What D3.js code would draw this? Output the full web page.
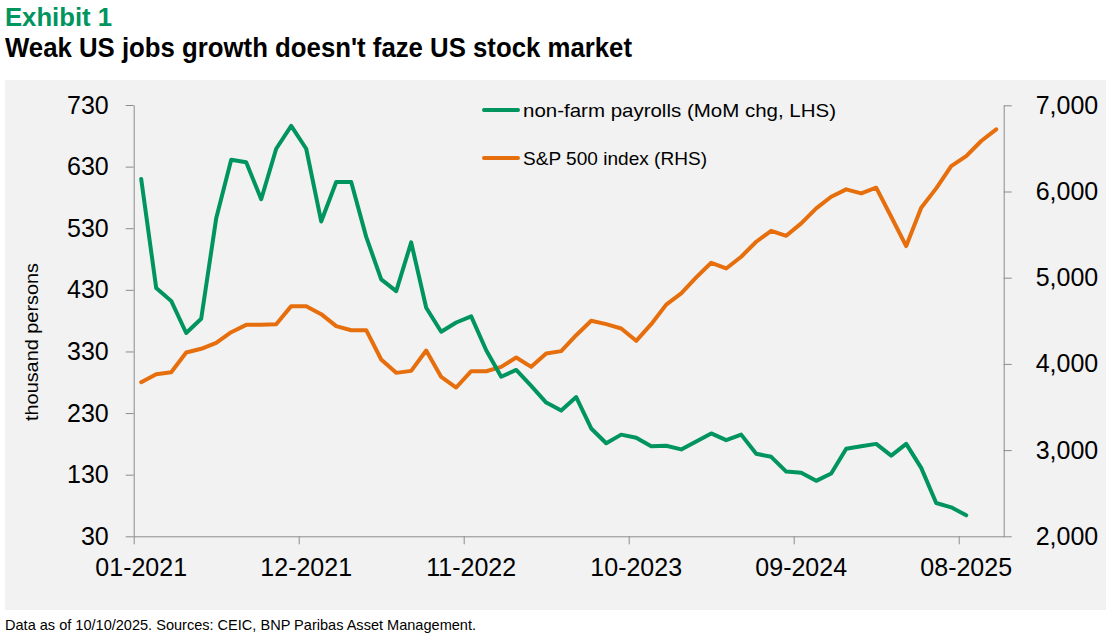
<!DOCTYPE html>
<html>
<head>
<meta charset="utf-8">
<script src="https://cdn.jsdelivr.net/npm/d3@7"></script>
<style>
  body { margin: 0; background: #fff; }
  svg { display: block; }
  .tick text { font-family: "Liberation Sans", Arial, sans-serif; fill: #000; }
</style>
</head>
<body>
<div class="svgWrapper"></div>
<script>
// Data //
const months = [
  "01-2021", "02-2021", "03-2021", "04-2021", "05-2021", "06-2021", "07-2021", "08-2021", "09-2021", "10-2021", "11-2021", "12-2021",
  "01-2022", "02-2022", "03-2022", "04-2022", "05-2022", "06-2022", "07-2022", "08-2022", "09-2022", "10-2022", "11-2022", "12-2022",
  "01-2023", "02-2023", "03-2023", "04-2023", "05-2023", "06-2023", "07-2023", "08-2023", "09-2023", "10-2023", "11-2023", "12-2023",
  "01-2024", "02-2024", "03-2024", "04-2024", "05-2024", "06-2024", "07-2024", "08-2024", "09-2024", "10-2024", "11-2024", "12-2024",
  "01-2025", "02-2025", "03-2025", "04-2025", "05-2025", "06-2025", "07-2025", "08-2025", "09-2025", "10-2025"
];

// non-farm payrolls, MoM change, thousand persons (01-2021 .. 08-2025)
const payrolls = [
  610, 433, 412, 360, 383, 546, 641, 637, 577, 659, 696, 659,
  541, 605, 605, 516, 447, 428, 507, 401, 362, 377, 387, 332,
  289, 300, 274, 247, 234, 256, 205, 181, 195, 190, 176, 177,
  171, 184, 197, 186, 195, 164, 159, 135, 133, 120, 132, 172,
  176, 180, 161, 180, 141, 84, 77, 64
];

// S&P 500 index (01-2021 .. 10-2025)
const sp500 = [
  3788, 3881, 3904, 4133, 4175, 4244, 4368, 4453, 4453, 4461, 4670, 4670,
  4577, 4438, 4391, 4391, 4051, 3896, 3919, 4155, 3849, 3726, 3915, 3915,
  3966, 4074, 3966, 4121, 4148, 4333, 4500, 4461, 4411, 4268, 4461, 4688,
  4817, 5003, 5173, 5107, 5243, 5417, 5544, 5486, 5630, 5804, 5939, 6025,
  5978, 6044, 5707, 5367, 5812, 6036, 6295, 6411, 6586, 6721
];

const leftTicks = [30, 130, 230, 330, 430, 530, 630, 730];
const rightTicks = [2000, 3000, 4000, 5000, 6000, 7000];
const xLabelMonths = ["01-2021", "12-2021", "11-2022", "10-2023", "09-2024", "08-2025"];

// Styles //
const svgStyles = { w: 1111, h: 636 };
const plot = { left: 133.7, right: 1003.7, top: 105, bottom: 536.3 };
const colors = {
  green: "#00945f",
  orange: "#e66e0c",
  axis: "#8c8c8c",
  panel: "#f2f2f2"
};
const tickFont = "25px";

let svg = d3
  .select(".svgWrapper")
  .append("svg")
  .attr("width", svgStyles.w)
  .attr("height", svgStyles.h);

// titles
svg
  .append("text")
  .attr("x", 5)
  .attr("y", 26)
  .attr("textLength", 107)
  .attr("lengthAdjust", "spacingAndGlyphs")
  .style("font-family", "'Liberation Sans Narrow', 'Liberation Sans', Arial, sans-serif")
  .style("font-weight", "bold")
  .style("font-size", "25px")
  .style("fill", colors.green)
  .text("Exhibit 1");

svg
  .append("text")
  .attr("x", 5)
  .attr("y", 57)
  .attr("textLength", 627)
  .attr("lengthAdjust", "spacingAndGlyphs")
  .style("font-family", "'Liberation Sans Narrow', 'Liberation Sans', Arial, sans-serif")
  .style("font-weight", "bold")
  .style("font-size", "27px")
  .style("fill", "#000")
  .text("Weak US jobs growth doesn't faze US stock market");

// grey panel
svg
  .append("rect")
  .attr("x", 5)
  .attr("y", 80)
  .attr("width", 1101)
  .attr("height", 530)
  .attr("fill", colors.panel);

// footer
svg
  .append("text")
  .attr("x", 5)
  .attr("y", 630)
  .attr("textLength", 471)
  .attr("lengthAdjust", "spacingAndGlyphs")
  .style("font-family", "'Liberation Sans', Arial, sans-serif")
  .style("font-size", "15px")
  .style("fill", "#000")
  .text("Data as of 10/10/2025. Sources: CEIC, BNP Paribas Asset Management.");

// Scales //
const xScale = d3
  .scaleBand()
  .domain(months)
  .range([plot.left, plot.right])
  .padding(0);

// boundaries between months, used for the tick marks
const xEdge = d3
  .scaleLinear()
  .domain([0, months.length])
  .range([plot.left, plot.right]);

const yLeft = d3
  .scaleLinear()
  .domain([30, 730])
  .range([plot.bottom, plot.top]);

const yRight = d3
  .scaleLinear()
  .domain([2000, 7000])
  .range([plot.bottom, plot.top + 0.3]);

const xMid = m => xScale(m) + xScale.bandwidth() / 2;

// Axes //
function styleAxis(g) {
  g.select(".domain").attr("stroke", colors.axis);
  g.selectAll(".tick line").attr("stroke", colors.axis);
  g.selectAll(".tick text").style("font-size", tickFont);
}

// left
svg
  .append("g")
  .attr("transform", `translate(${plot.left},0)`)
  .call(
    d3.axisLeft(yLeft)
      .tickValues(leftTicks)
      .tickSizeInner(8)
      .tickSizeOuter(0)
      .tickPadding(17)
      .tickFormat(d3.format("d"))
  )
  .call(styleAxis);

// right
svg
  .append("g")
  .attr("transform", `translate(${plot.right},0)`)
  .call(
    d3.axisRight(yRight)
      .tickValues(rightTicks)
      .tickSizeInner(8)
      .tickSizeOuter(0)
      .tickPadding(24)
      .tickFormat(d3.format(","))
  )
  .call(styleAxis);

// bottom: tick marks on month boundaries
svg
  .append("g")
  .attr("transform", `translate(0,${plot.bottom})`)
  .call(
    d3.axisBottom(xEdge)
      .tickValues(xLabelMonths.map(m => months.indexOf(m)))
      .tickSizeInner(8)
      .tickSizeOuter(0)
      .tickFormat("")
  )
  .call(styleAxis);

// bottom: labels centred on the months
svg
  .append("g")
  .attr("transform", `translate(0,${plot.bottom})`)
  .call(
    d3.axisBottom(xScale)
      .tickValues(xLabelMonths)
      .tickSize(0)
      .tickPadding(22)
  )
  .call(g => g.select(".domain").remove())
  .call(g => g.selectAll(".tick text").style("font-size", tickFont));

// y axis title
svg
  .append("text")
  .attr("transform", "translate(38,342) rotate(-90)")
  .attr("text-anchor", "middle")
  .attr("textLength", 158)
  .attr("lengthAdjust", "spacingAndGlyphs")
  .style("font-family", "'Liberation Sans', Arial, sans-serif")
  .style("font-size", "18px")
  .style("fill", "#000")
  .text("thousand persons");

// Lines //
const payrollLine = d3
  .line()
  .x((d, i) => xMid(months[i]))
  .y(d => yLeft(d));

const spLine = d3
  .line()
  .x((d, i) => xMid(months[i]))
  .y(d => yRight(d));

svg
  .append("path")
  .datum(sp500)
  .attr("d", spLine)
  .attr("fill", "none")
  .attr("stroke", colors.orange)
  .attr("stroke-width", 4)
  .attr("stroke-linejoin", "round")
  .attr("stroke-linecap", "round");

svg
  .append("path")
  .datum(payrolls)
  .attr("d", payrollLine)
  .attr("fill", "none")
  .attr("stroke", colors.green)
  .attr("stroke-width", 4)
  .attr("stroke-linejoin", "round")
  .attr("stroke-linecap", "round");

// Legend //
const legendItems = [
  { label: "non-farm payrolls (MoM chg, LHS)", color: colors.green, y: 110, len: 313 },
  { label: "S&P 500 index (RHS)", color: colors.orange, y: 158, len: 184 }
];

const legend = svg
  .selectAll(".legendItem")
  .data(legendItems)
  .enter()
  .append("g")
  .attr("class", "legendItem")
  .attr("transform", d => `translate(0,${d.y})`);

legend
  .append("line")
  .attr("x1", 484)
  .attr("x2", 518)
  .attr("stroke", d => d.color)
  .attr("stroke-width", 4)
  .attr("stroke-linecap", "round");

legend
  .append("text")
  .attr("x", 523)
  .attr("dy", "0.35em")
  .attr("textLength", d => d.len)
  .attr("lengthAdjust", "spacingAndGlyphs")
  .style("font-family", "'Liberation Sans', Arial, sans-serif")
  .style("font-size", "19px")
  .style("fill", "#000")
  .text(d => d.label);
</script>
</body>
</html>
